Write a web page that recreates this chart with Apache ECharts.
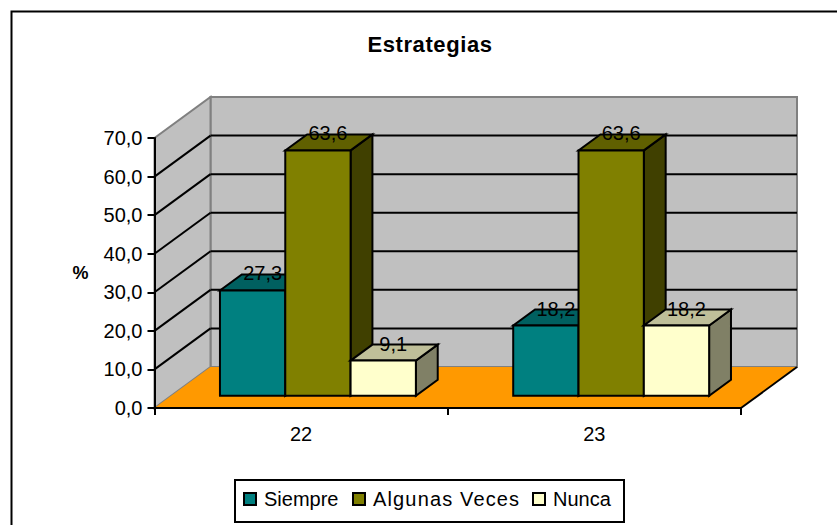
<!DOCTYPE html>
<html><head><meta charset="utf-8">
<style>
html,body{margin:0;padding:0;background:#fff}
#c{width:837px;height:525px}
</style>
<script src="https://cdn.jsdelivr.net/npm/echarts@6/dist/echarts.min.js"></script>
</head><body><div id="c"></div>
<script>
const categories = ['22', '23'];
const siempre = [27.3, 18.2];
const algunasVeces = [63.6, 63.6];
const nunca = [9.1, 18.2];
const yTicks = [0, 10, 20, 30, 40, 50, 60, 70];
const FONT = '"Liberation Sans", Arial, sans-serif';

const DEPTH = [56, -41];          // full wall depth in px
const BAR_NEAR = 0.30, BAR_FAR = 0.69; // bar depth within the floor
const BAR_W = 0.2227;             // bar width as share of a category band

function poly(points, fill, stroke, lw) {
  return {type: 'polygon', shape: {points}, style: {fill, stroke: stroke || 'none', lineWidth: lw || 0, lineJoin: 'miter'}};
}
function line(a, b, stroke, lw) {
  return {type: 'line', shape: {x1: a[0], y1: a[1], x2: b[0], y2: b[1]}, style: {stroke, lineWidth: lw, fill: 'none'}};
}
function back(p) { return [p[0] + DEPTH[0], p[1] + DEPTH[1]]; }

function renderBackdrop(params, api) {
  const bandW = api.size([1, 0])[0];
  const c0 = api.coord([0, 0]);
  const left = c0[0] - bandW / 2, right = left + bandW * categories.length;
  const y0 = c0[1], yT = api.coord([0, yTicks[yTicks.length - 1]])[1];
  const fl = [left, y0], fr = [right, y0], tl = [left, yT], tr = [right, yT];
  const ch = [];
  ch.push(poly([back(fl), back(fr), back(tr), back(tl)], '#C0C0C0', '#808080', 2));
  ch.push(poly([fl, tl, back(tl), back(fl)], '#C0C0C0', '#808080', 2));
  yTicks.slice(1, -1).forEach(v => {
    const y = api.coord([0, v])[1];
    const a = [left, y], b = back(a), e = back([right, y]);
    ch.push(line(a, b, '#000', 2));
    ch.push(line(b, e, '#000', 2));
  });
  ch.push(poly([fl, fr, back(fr), back(fl)], '#FF9900'));
  ch.push(line(fr, back(fr), '#000', 2));
  return {type: 'group', children: ch};
}

function barRenderer(offset, face, top, side) {
  return function (params, api) {
    const cat = api.value(0), val = api.value(1);
    const bandW = api.size([1, 0])[0];
    const w = bandW * BAR_W;
    const base = api.coord([cat, 0]), head = api.coord([cat, val]);
    const nx = DEPTH[0] * BAR_NEAR, ny = DEPTH[1] * BAR_NEAR;
    const dx = DEPTH[0] * (BAR_FAR - BAR_NEAR), dy = DEPTH[1] * (BAR_FAR - BAR_NEAR);
    const x0 = base[0] + nx + (offset - 0.5) * w, x1 = x0 + w;
    const yb = base[1] + ny, yt = head[1] + ny;
    const s = '#000', lw = 2;
    return {type: 'group', children: [
      poly([[x1, yb], [x1, yt], [x1 + dx, yt + dy], [x1 + dx, yb + dy]], side, s, lw),
      poly([[x0, yt], [x1, yt], [x1 + dx, yt + dy], [x0 + dx, yt + dy]], top, s, lw),
      poly([[x0, yb], [x1, yb], [x1, yt], [x0, yt]], face, s, lw),
      {type: 'text', z2: 100, style: {
        text: val.toFixed(1).replace('.', ','),
        x: (x0 + x1) / 2 + 10, y: yt - 17,
        align: 'center', verticalAlign: 'middle',
        font: '20px ' + FONT, fill: '#000'}}
    ]};
  };
}
function barData(values) { return values.map((v, i) => [i, v]); }
function legendItem(name, left) {
  return {left, top: 489, padding: 0, itemWidth: 12, itemHeight: 12, icon: 'rect', selectedMode: false,
    textStyle: {fontFamily: FONT, fontSize: 20, color: '#000', padding: [0, 0, 0, 3]}, data: [name]};
}

const chart = echarts.init(document.getElementById('c'), null, {renderer: 'svg'});
chart.setOption({
  animation: false,
  backgroundColor: '#fff',
  title: {text: 'Estrategias', left: 425, top: 28, textAlign: 'center',
    textStyle: {fontFamily: FONT, fontSize: 22, fontWeight: 'bold', color: '#000'}},
  grid: {left: 154.5, top: 138, width: 586.5, height: 270, containLabel: false},
  legend: [legendItem('Siempre', 243), legendItem('Algunas Veces', 352), legendItem('Nunca', 532)],
  xAxis: {type: 'category', data: categories, z: 10,
    axisLine: {lineStyle: {color: '#000', width: 2}},
    axisTick: {show: true, length: 7, alignWithLabel: false, lineStyle: {color: '#000', width: 2}},
    axisLabel: {margin: 16, fontFamily: FONT, fontSize: 20, color: '#000'},
    splitLine: {show: false}},
  yAxis: {type: 'value', min: 0, max: 70, interval: 10, z: 10,
    name: '%', nameLocation: 'middle', nameGap: 66, nameRotate: 0,
    nameTextStyle: {fontFamily: FONT, fontSize: 18, fontWeight: 'bold', color: '#000'},
    axisLine: {show: true, lineStyle: {color: '#000', width: 2}},
    axisTick: {show: true, length: 7, lineStyle: {color: '#000', width: 2}},
    axisLabel: {margin: 12, fontFamily: FONT, fontSize: 20, color: '#000',
      formatter: v => v.toFixed(1).replace('.', ',')},
    splitLine: {show: false}},
  series: [
    {type: 'custom', name: 'backdrop', silent: true, z: 1, clip: false, coordinateSystem: 'cartesian2d',
      data: [[0, 0]], encode: {x: 0, y: 1}, renderItem: renderBackdrop, tooltip: {show: false}},
    {type: 'custom', name: 'Siempre', z: 2, clip: false, data: barData(siempre), encode: {x: 0, y: 1},
      itemStyle: {color: '#008080', borderColor: '#000', borderWidth: 2},
      renderItem: barRenderer(-1, '#008080', '#006060', '#004040')},
    {type: 'custom', name: 'Algunas Veces', z: 3, clip: false, data: barData(algunasVeces), encode: {x: 0, y: 1},
      itemStyle: {color: '#808000', borderColor: '#000', borderWidth: 2},
      renderItem: barRenderer(0, '#808000', '#606000', '#404000')},
    {type: 'custom', name: 'Nunca', z: 4, clip: false, data: barData(nunca), encode: {x: 0, y: 1},
      itemStyle: {color: '#FFFFCC', borderColor: '#000', borderWidth: 2},
      renderItem: barRenderer(1, '#FFFFCC', '#BFBF99', '#808066')}
  ],
  graphic: [
    {type: 'polyline', silent: true, z: 100, shape: {points: [[11.5, 525], [11.5, 11.5], [837, 11.5]]},
      style: {stroke: '#000', lineWidth: 2, fill: 'none'}},
    {type: 'rect', silent: true, z: 100, shape: {x: 235, y: 480, width: 389, height: 42},
      style: {stroke: '#000', lineWidth: 2, fill: 'none'}}
  ]
});
document.querySelectorAll('#c svg text').forEach(t => {
  if (t.textContent === 'Algunas Veces') t.style.letterSpacing = '1.15px';
  if (t.textContent === 'Estrategias') t.style.letterSpacing = '0.6px';
});
</script></body></html>
